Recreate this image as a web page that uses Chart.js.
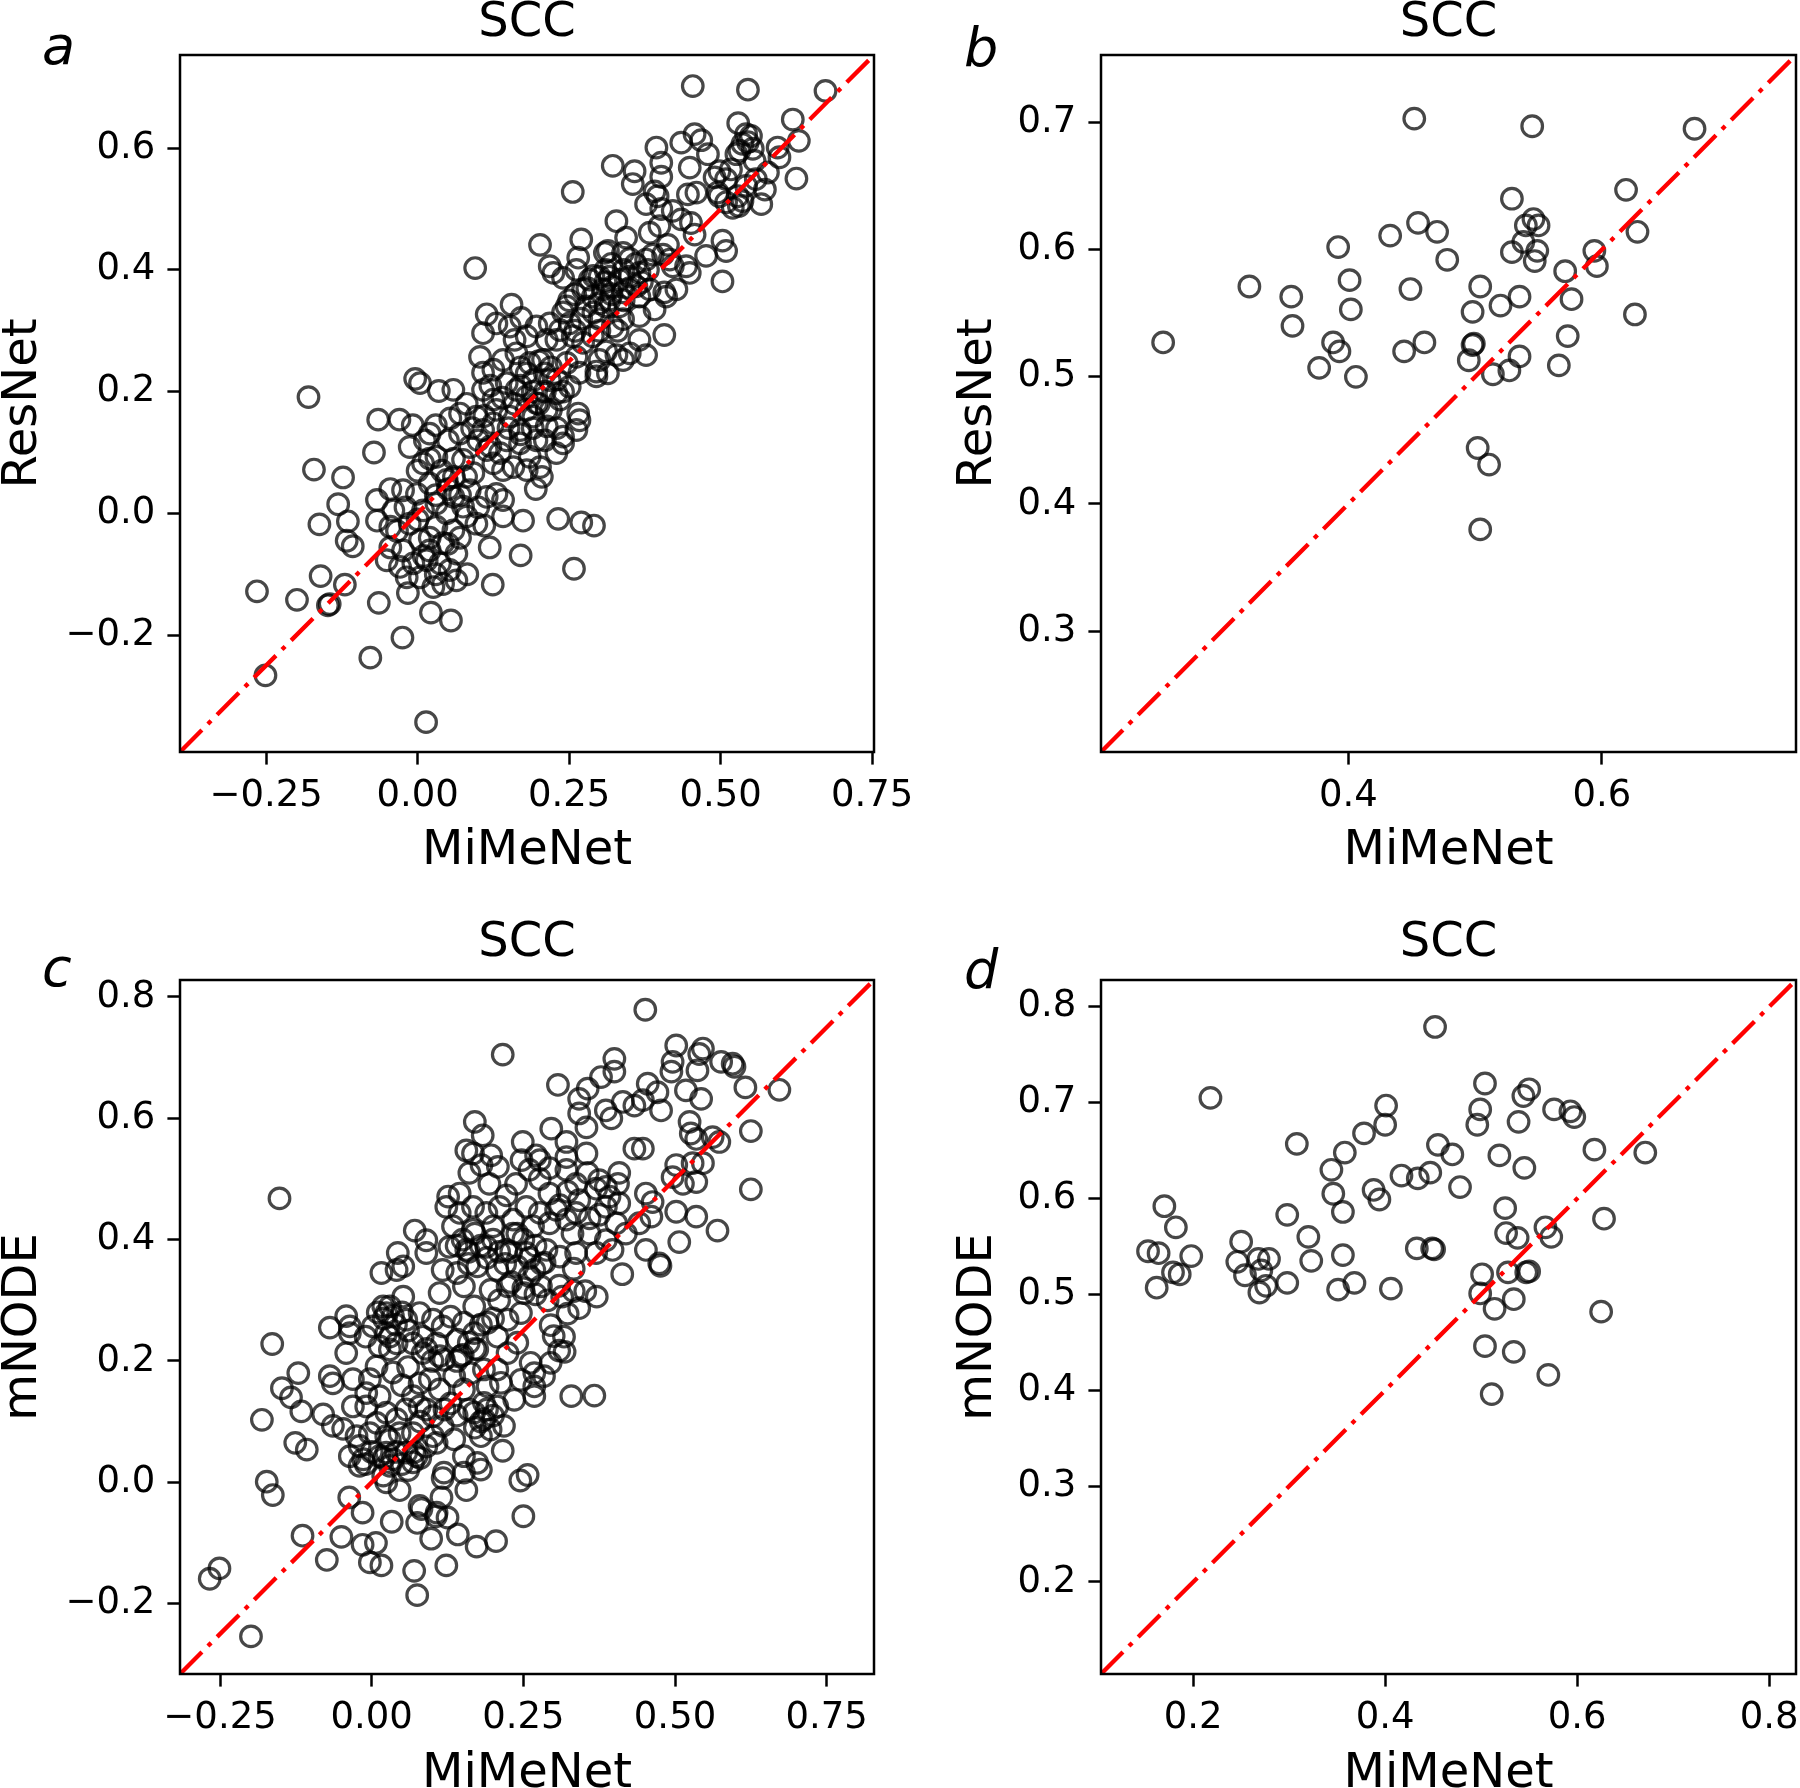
<!DOCTYPE html>
<html lang="en">
<head>
<meta charset="UTF-8">
<title>SCC - MiMeNet vs ResNet / mNODE</title>
<script src="https://cdn.jsdelivr.net/npm/chart.js"></script>
<style>
  html, body { margin: 0; padding: 0; background: #fff; overflow: hidden; }
  body { width: 1800px; height: 1788px; position: relative; }
  canvas { position: absolute; }
</style>
</head>
<body>
<canvas id="chartA" width="960" height="878" style="left:0px;top:0px"></canvas>
<canvas id="chartB" width="875" height="878" style="left:955px;top:0px"></canvas>
<canvas id="chartC" width="960" height="881" style="left:0px;top:920px"></canvas>
<canvas id="chartD" width="875" height="881" style="left:955px;top:920px"></canvas>

<script>
// ---- data: [MiMeNet, other model] SCC per item ----

// panel a: MiMeNet vs ResNet (all items)
const panelA = [
  [0.454,0.702],[0.545,0.696],[0.673,0.694],[0.619,0.647],[0.629,0.612],[0.625,0.550],[0.529,0.641],
  [0.542,0.623],[0.550,0.620],[0.545,0.610],[0.536,0.607],[0.553,0.599],[0.531,0.596],
  [0.594,0.601],[0.597,0.585],[0.578,0.560],[0.573,0.532],[0.567,0.508],[0.530,0.505],[0.520,0.502],
  [0.536,0.513],[0.528,0.521],[0.498,0.521],[0.495,0.527],[0.490,0.552],[0.498,0.562],[0.509,0.549],
  [0.517,0.565],[0.526,0.590],[0.556,0.579],[0.558,0.549],[0.542,0.538],
  [0.457,0.623],[0.468,0.613],[0.479,0.590],[0.435,0.609],[0.394,0.601],[0.402,0.576],[0.402,0.553],
  [0.449,0.568],[0.322,0.571],[0.358,0.562],[0.355,0.541],[0.391,0.529],[0.377,0.508],[0.402,0.500],
  [0.396,0.521],[0.446,0.524],[0.460,0.527],[0.509,0.511],[0.421,0.497],
  [0.328,0.480],[0.344,0.453],[0.383,0.461],[0.399,0.472],[0.413,0.441],[0.405,0.425],[0.388,0.425],
  [0.416,0.417],[0.435,0.483],[0.451,0.477],[0.457,0.458],[0.503,0.448],[0.509,0.431],[0.476,0.423],
  [0.443,0.406],[0.449,0.395],[0.503,0.381],[0.427,0.368],[0.407,0.363],[0.314,0.431],[0.339,0.428],
  [0.256,0.528],[0.270,0.450],[0.202,0.441],[0.265,0.420],[0.350,0.418],[0.421,0.406],[0.377,0.417],
  [0.309,0.428],[0.218,0.406],[0.224,0.395],[0.240,0.387],[0.262,0.400],[0.284,0.384],[0.300,0.389],
  [0.317,0.389],[0.333,0.384],[0.350,0.389],[0.366,0.395],[0.361,0.373],[0.273,0.368],[0.289,0.356],
  [0.306,0.368],[0.322,0.373],[0.339,0.363],[0.278,0.340],[0.300,0.345],[0.317,0.351],[0.333,0.340],
  [0.366,0.356],[0.383,0.368],[0.410,0.356],[0.391,0.335],[0.366,0.324],[0.339,0.319],[0.300,0.319],
  [0.322,0.307],[0.407,0.293],[0.366,0.285],[0.350,0.263],[0.328,0.260],[0.311,0.266],[0.339,0.252],
  [0.377,0.260],[0.235,0.301],[0.218,0.312],[0.251,0.312],[0.256,0.291],[0.229,0.285],[0.213,0.285],
  [0.273,0.280],[0.289,0.291],[0.262,0.257],[0.246,0.247],[0.300,0.252],[0.207,0.252],[0.314,0.230],
  [0.295,0.233],
  [0.155,0.343],[0.114,0.327],[0.108,0.296],[0.130,0.312],[0.152,0.307],[0.171,0.321],[0.180,0.291],
  [0.160,0.285],[0.196,0.307],[0.246,0.340],[0.103,0.257],[0.125,0.236],[0.108,0.231],[0.141,0.252],
  [0.163,0.263],[0.185,0.247],[0.267,0.231],[0.295,0.225],[0.059,0.203],[0.081,0.180],[0.108,0.203],
  [0.125,0.187],[0.147,0.214],[0.163,0.203],[0.180,0.192],[0.191,0.219],[0.218,0.219],[0.229,0.197],
  [0.235,0.187],[0.251,0.208],[0.265,0.164],[0.267,0.153],[0.262,0.137],[0.240,0.126],[0.240,0.115],
  [0.229,0.099],[0.213,0.143],[0.196,0.120],[0.185,0.093],[0.202,0.076],[0.180,0.071],[0.158,0.076],
  [0.141,0.071],[0.125,0.082],[0.114,0.104],[0.086,0.109],[0.070,0.131],[0.070,0.164],[0.097,0.159],
  [0.125,0.148],[0.152,0.159],[0.169,0.137],[0.147,0.120],[0.169,0.115],[0.108,0.137],[0.075,0.088],
  [0.092,0.066],[0.136,0.099],[0.213,0.170],[0.191,0.159],[0.196,0.181],
  [-0.013,0.109],[0.012,0.120],[0.020,0.131],[0.050,0.120],[0.009,0.082],[0.031,0.093],[0.130,0.032],
  [0.141,0.022],[0.114,0.027],[-0.045,0.040],[-0.024,0.038],[-0.067,0.022],[-0.040,0.005],[-0.001,0.032],
  [0.020,0.049],[0.048,0.055],[0.086,0.038],[0.059,0.027],[0.031,0.016],[0.009,0.005],[0.048,0.000],
  [0.075,0.011],[0.081,-0.005],[0.097,-0.017],[0.059,-0.028],[0.031,-0.022],[-0.013,-0.017],[-0.045,-0.022],
  [-0.067,-0.012],[0.141,-0.005],[0.174,-0.012],[0.119,-0.056],[0.170,-0.069],[-0.045,-0.056],[-0.024,-0.061],
  [0.004,-0.044],[0.020,-0.061],[0.042,-0.049],[0.064,-0.066],[-0.051,-0.077],[-0.029,-0.088],[-0.007,-0.082],
  [0.015,-0.077],[0.037,-0.082],[0.053,-0.093],[-0.018,-0.105],[0.004,-0.105],[0.042,-0.116],[0.026,-0.121],
  [0.064,-0.110],[0.082,-0.100],[0.124,-0.117],[-0.016,-0.131],[-0.064,-0.147],[0.022,-0.163],[0.055,-0.176],
  [-0.072,0.100],
  [-0.180,0.191],[-0.171,0.072],[-0.123,0.059],[-0.131,0.015],[-0.162,-0.018],[-0.115,-0.013],[-0.117,-0.045],
  [-0.107,-0.054],[-0.160,-0.103],[-0.120,-0.117],[-0.148,-0.151],[-0.145,-0.149],[-0.199,-0.142],[-0.265,-0.128],
  [-0.251,-0.266],[-0.065,0.154],[-0.030,0.154],[-0.008,0.145],[-0.004,0.221],[0.004,0.214],[0.035,0.201],
  [0.054,0.156],[0.030,0.145],[-0.034,-0.029],[-0.025,-0.204],[-0.078,-0.237],[0.014,-0.343],[0.232,-0.009],
  [0.270,-0.015],[0.291,-0.020],[0.258,-0.091],[0.095,0.403],[0.195,0.040],[0.205,0.060],
  // overlapping circles in the dense core
  [0.170,0.240],[0.180,0.230],[0.200,0.250],[0.210,0.230],[0.220,0.240],[0.190,0.200],[0.210,0.200],
  [0.230,0.220],[0.170,0.210],[0.200,0.180],[0.220,0.170],[0.240,0.200],[0.180,0.170],[0.160,0.180],
  [0.140,0.190],[0.120,0.210],[0.130,0.170],[0.150,0.140],[0.170,0.130],[0.190,0.140],[0.210,0.120],
  [0.230,0.140],[0.110,0.160],[0.090,0.140],[0.100,0.120],[0.120,0.110],
  [0.260,0.360],[0.280,0.370],[0.290,0.330],[0.310,0.340],[0.320,0.360],[0.270,0.320],[0.300,0.300],
  [0.330,0.300],[0.340,0.350],[0.290,0.390],[0.310,0.380],[0.350,0.370],[0.250,0.350],[0.240,0.330],
  [0.260,0.300],
  [0.000,0.070],[0.020,0.090],[0.040,0.070],[0.060,0.060],[0.030,0.030],[0.050,0.040],[0.070,0.030],
  [-0.020,0.010],[0.000,-0.010],[0.020,-0.040],[0.050,-0.050],[0.030,-0.100],[0.010,-0.070],[0.070,-0.040],
  [0.100,0.010],[0.110,-0.020],[0.080,0.060],[0.060,0.090],
  [0.310,0.400],[0.320,0.410],[0.340,0.400],[0.360,0.410],[0.370,0.380],[0.380,0.400]
];

// panel b: MiMeNet vs ResNet (subset)
const panelB = [
  [0.254,0.527],[0.322,0.571],[0.355,0.563],[0.356,0.540],[0.377,0.507],[0.388,0.527],[0.393,0.520],
  [0.392,0.602],[0.401,0.576],[0.402,0.553],[0.406,0.500],[0.433,0.611],[0.444,0.520],[0.449,0.569],
  [0.452,0.703],[0.455,0.621],[0.460,0.527],[0.470,0.614],[0.478,0.592],[0.495,0.513],[0.498,0.551],
  [0.498,0.525],[0.499,0.526],[0.502,0.444],[0.504,0.571],[0.511,0.431],[0.504,0.380],[0.514,0.502],
  [0.520,0.556],[0.527,0.505],[0.529,0.640],[0.529,0.598],[0.535,0.563],[0.535,0.516],[0.538,0.606],
  [0.540,0.619],[0.545,0.697],[0.546,0.624],[0.547,0.591],[0.549,0.599],[0.550,0.619],[0.571,0.583],
  [0.573,0.532],[0.566,0.509],[0.576,0.561],[0.594,0.599],[0.596,0.587],[0.619,0.647],[0.626,0.549],
  [0.628,0.614],[0.673,0.695]
];

// panel c: MiMeNet vs mNODE (all items)
const panelC = [
  [-0.267,-0.159],[-0.251,-0.142],[-0.199,-0.254],[-0.152,0.468],[-0.164,0.228],[-0.181,0.103],[-0.173,0.001],
  [-0.163,-0.021],[-0.148,0.155],[-0.133,0.140],[-0.121,0.180],[-0.116,0.117],[-0.126,0.065],[-0.107,0.054],
  [-0.114,-0.088],[-0.074,-0.128],[-0.050,-0.090],[-0.037,-0.025],[-0.015,-0.050],[-0.015,-0.103],[0.007,-0.100],
  [-0.003,-0.132],[0.016,-0.137],[0.033,-0.065],[0.046,-0.013],[0.070,-0.146],[0.075,-0.186],[0.082,-0.044],
  [0.075,-0.067],[0.098,-0.093],[0.106,-0.056],[0.115,-0.025],[0.117,0.007],[0.125,-0.058],[0.123,-0.137],
  [0.142,-0.086],[0.156,-0.013],[0.173,-0.106],[0.205,-0.097],[0.216,0.052],[0.245,0.003],[0.257,0.012],
  [0.250,-0.056],[0.216,0.705],[0.451,0.779],[0.307,0.655],[0.329,0.142],[0.367,0.143],
  [0.672,0.647],[0.625,0.579],[0.625,0.483],[0.616,0.651],[0.371,0.306],[0.476,0.357],[0.413,0.343],
  [0.333,0.315],[0.342,0.287],[0.323,0.278],[0.352,0.315],[0.314,0.306],[0.300,0.241],[0.309,0.217],
  [0.318,0.215],[0.295,0.259],[0.333,0.352],[0.309,0.324],[0.285,0.362],
  [0.400,0.698],[0.400,0.677],[0.378,0.668],[0.356,0.649],[0.342,0.632],[0.342,0.608],[0.354,0.585],
  [0.386,0.613],[0.395,0.600],[0.414,0.627],[0.433,0.621],[0.447,0.630],[0.455,0.657],[0.471,0.643],
  [0.477,0.613],[0.502,0.720],[0.496,0.693],[0.494,0.677],[0.546,0.715],[0.540,0.706],[0.576,0.693],
  [0.595,0.690],[0.598,0.685],[0.537,0.679],[0.518,0.646],[0.543,0.632],[0.524,0.594],[0.526,0.575],
  [0.535,0.566],[0.562,0.569],[0.573,0.561],[0.433,0.550],[0.447,0.550],[0.502,0.523],[0.529,0.526],
  [0.546,0.526],[0.496,0.503],[0.513,0.492],[0.535,0.495],[0.452,0.476],[0.463,0.462],[0.502,0.446],
  [0.535,0.438],[0.441,0.427],[0.461,0.438],[0.507,0.396],[0.570,0.415],[0.452,0.383],[0.474,0.361],
  [0.408,0.510],[0.406,0.492],[0.386,0.487],[0.375,0.498],[0.356,0.510],[0.354,0.542],[0.321,0.536],
  [0.321,0.561],[0.296,0.583],[0.249,0.561],[0.271,0.539],[0.277,0.531],[0.247,0.531],[0.260,0.515],
  [0.293,0.518],[0.321,0.515],[0.170,0.594],[0.183,0.572],[0.197,0.539],[0.181,0.523],[0.156,0.547],
  [0.167,0.542],[0.161,0.510],[0.208,0.520],[0.238,0.492],[0.222,0.473],[0.194,0.492],[0.126,0.471],
  [0.145,0.476],[0.277,0.500],[0.293,0.476],[0.323,0.479],[0.337,0.492],[0.310,0.457],[0.342,0.465],
  [0.370,0.484],[0.392,0.471],[0.408,0.460],[0.386,0.454],[0.375,0.441],[0.359,0.435],[0.337,0.444],
  [0.321,0.433],[0.304,0.449],[0.277,0.444],[0.255,0.454],[0.233,0.433],[0.211,0.454],[0.189,0.444],
  [0.167,0.454],[0.145,0.444],[0.123,0.454],[0.134,0.422],[0.167,0.416],[0.200,0.422],[0.233,0.410],
  [0.266,0.422],[0.293,0.427],[0.331,0.410],[0.359,0.410],[0.386,0.399],[0.403,0.427],[0.419,0.410],
  [0.128,0.388],[0.156,0.383],[0.189,0.388],[0.222,0.383],[0.255,0.378],[0.288,0.383],[0.310,0.372],
  [0.337,0.378],[0.370,0.378],[0.397,0.383],
  [0.071,0.415],[0.090,0.399],[0.043,0.378],[0.052,0.356],[0.041,0.350],[0.016,0.345],[0.090,0.378],
  [0.117,0.350],[0.112,0.312],[0.052,0.306],[0.019,0.290],[0.024,0.279],[0.035,0.274],[0.057,0.268],
  [0.079,0.279],[0.101,0.268],[0.117,0.257],[-0.042,0.274],[-0.069,0.255],[-0.036,0.257],[-0.036,0.246],
  [-0.042,0.213],[0.002,0.257],[0.024,0.246],[0.013,0.224],[0.030,0.219],[0.041,0.229],[0.084,0.240],
  [0.068,0.229],[0.084,0.213],[0.107,0.229],[0.112,0.208],[0.008,0.191],[0.035,0.181],[0.096,0.170],
  [0.079,0.163],[0.112,0.153],[-0.069,0.175],[-0.064,0.163],[-0.031,0.170],[-0.003,0.170],[-0.009,0.147],
  [0.013,0.142],[0.068,0.142],
  [-0.080,0.112],[-0.064,0.093],[-0.047,0.088],[-0.031,0.125],[-0.025,0.076],[-0.009,0.125],[0.008,0.098],
  [0.024,0.115],[0.041,0.104],[0.057,0.120],[0.079,0.125],[0.101,0.109],[0.117,0.093],[0.101,0.076],
  [0.068,0.081],[0.046,0.081],[0.024,0.076],[-0.003,0.081],[-0.036,0.043],[-0.014,0.038],[-0.020,0.027],
  [0.013,0.043],[0.024,0.049],[0.035,0.038],[0.030,0.027],[0.057,0.049],[0.068,0.033],[0.074,0.043],
  [0.090,0.059],[0.107,0.065],[0.019,0.011],[0.024,0.000],[0.079,-0.039],[0.107,-0.050],
  [0.141,0.345],[0.174,0.356],[0.207,0.350],[0.240,0.356],[0.268,0.350],[0.152,0.323],[0.169,0.290],
  [0.196,0.317],[0.224,0.323],[0.251,0.312],[0.279,0.323],[0.317,0.240],[0.262,0.197],[0.268,0.180],
  [0.268,0.158],[0.246,0.169],[0.207,0.186],[0.224,0.213],[0.240,0.230],[0.207,0.240],[0.191,0.263],
  [0.224,0.268],[0.246,0.279],[0.152,0.263],[0.130,0.273],[0.141,0.235],[0.169,0.246],[0.119,0.202],
  [0.147,0.208],[0.174,0.219],[0.185,0.186],[0.163,0.180],[0.136,0.175],[0.152,0.153],[0.191,0.158],
  [0.213,0.164],[0.235,0.136],[0.268,0.142],[0.185,0.131],[0.207,0.125],[0.169,0.115],[0.185,0.104],
  [0.196,0.087],[0.218,0.093],[0.180,0.076],[0.136,0.071],[0.152,0.043],[0.174,0.032],[0.180,0.021],
  [0.152,0.016],[0.119,0.016],[0.295,0.197],[0.284,0.175],
  // overlapping circles in the dense clusters
  [0.020,0.270],[0.030,0.290],[0.040,0.260],[0.010,0.280],[0.050,0.280],[0.060,0.250],[0.030,0.240],
  [-0.010,0.240],[0.000,0.050],[0.020,0.040],[0.040,0.050],[0.050,0.030],[0.060,0.020],[0.070,0.050],
  [-0.020,0.060],[-0.010,0.030],[0.030,0.070],[0.080,0.040],
  [0.150,0.400],[0.160,0.380],[0.170,0.410],[0.180,0.390],[0.190,0.370],[0.200,0.400],[0.140,0.390],
  [0.160,0.360],[0.210,0.380],[0.220,0.360],[0.240,0.410],[0.250,0.400],[0.260,0.370],[0.270,0.390],
  [0.280,0.360],[0.230,0.380],
  [0.150,0.210],[0.160,0.230],[0.140,0.200],[0.170,0.220],[0.130,0.130],[0.120,0.120],[0.140,0.110],
  [0.160,0.120],[0.180,0.100],[0.190,0.120],[0.200,0.110],[0.170,0.090],
  [0.260,0.340],[0.270,0.310],[0.290,0.300],[0.250,0.320],[0.230,0.330],[0.210,0.300],[0.200,0.270],
  [0.180,0.260],[0.100,0.200],[0.090,0.220],[0.060,0.190],[0.050,0.160],[0.080,0.100],[0.090,0.120]
];

// panel d: MiMeNet vs mNODE (subset)
const panelD = [
  [0.153,0.545],[0.164,0.543],[0.162,0.507],[0.170,0.592],[0.182,0.570],[0.179,0.523],[0.186,0.521],
  [0.198,0.540],[0.218,0.705],[0.246,0.534],[0.250,0.555],[0.254,0.520],[0.268,0.537],[0.269,0.502],
  [0.271,0.525],[0.276,0.509],[0.279,0.537],[0.298,0.583],[0.298,0.512],[0.308,0.657],[0.320,0.560],
  [0.323,0.535],[0.344,0.630],[0.346,0.605],[0.351,0.505],[0.356,0.541],[0.356,0.586],[0.358,0.648],
  [0.368,0.512],[0.378,0.668],[0.388,0.609],[0.394,0.599],[0.401,0.697],[0.400,0.677],[0.406,0.506],
  [0.417,0.624],[0.433,0.548],[0.434,0.621],[0.447,0.627],[0.449,0.548],[0.451,0.547],[0.452,0.779],
  [0.455,0.656],[0.470,0.646],[0.478,0.612],[0.496,0.677],[0.499,0.693],[0.499,0.501],[0.501,0.521],
  [0.504,0.720],[0.504,0.446],[0.514,0.485],[0.511,0.396],[0.519,0.645],[0.525,0.590],[0.526,0.564],
  [0.528,0.523],[0.534,0.495],[0.534,0.440],[0.538,0.559],[0.539,0.680],[0.544,0.707],[0.545,0.632],
  [0.547,0.523],[0.550,0.714],[0.550,0.524],[0.567,0.570],[0.573,0.560],[0.570,0.416],[0.576,0.693],
  [0.593,0.691],[0.597,0.685],[0.618,0.651],[0.625,0.482],[0.628,0.579],[0.671,0.648]
];

// axis limits (same on x and y, the red y = x line runs corner to corner)
const aLim = [-0.392, 0.753];
const bLim = [0.205, 0.753];
const cLim = [-0.316, 0.828];
const dLim = [0.104, 0.828];

// ticks
const wideTicks = [-0.25, 0, 0.25, 0.5, 0.75];
const wideLabels = ['\u22120.25', '0.00', '0.25', '0.50', '0.75'];
const aYTicks = [-0.2, 0, 0.2, 0.4, 0.6];
const aYLabels = ['\u22120.2', '0.0', '0.2', '0.4', '0.6'];
const bXTicks = [0.4, 0.6];
const bXLabels = ['0.4', '0.6'];
const bYTicks = [0.3, 0.4, 0.5, 0.6, 0.7];
const bYLabels = ['0.3', '0.4', '0.5', '0.6', '0.7'];
const cYTicks = [-0.2, 0, 0.2, 0.4, 0.6, 0.8];
const cYLabels = ['\u22120.2', '0.0', '0.2', '0.4', '0.6', '0.8'];
const dXTicks = [0.2, 0.4, 0.6, 0.8];
const dXLabels = ['0.2', '0.4', '0.6', '0.8'];
const dYTicks = [0.2, 0.3, 0.4, 0.5, 0.6, 0.7, 0.8];
const dYLabels = ['0.2', '0.3', '0.4', '0.5', '0.6', '0.7', '0.8'];

const FONT = '"DejaVu Sans", "Liberation Sans", sans-serif';

// full box around the plot area
const framePlugin = {
  id: 'frame',
  afterDraw(chart) {
    const { ctx, chartArea: a } = chart;
    ctx.save();
    ctx.strokeStyle = '#000';
    ctx.lineWidth = 2.5;
    ctx.strokeRect(a.left, a.top, a.right - a.left, a.bottom - a.top);
    ctx.restore();
  }
};

// italic panel letter (a, b, c, d)
const letterPlugin = {
  id: 'panelLetter',
  afterDraw(chart, args, opts) {
    const ctx = chart.ctx;
    ctx.save();
    ctx.font = 'italic 54px ' + FONT;
    ctx.fillStyle = '#000';
    ctx.textBaseline = 'alphabetic';
    ctx.textAlign = 'left';
    ctx.fillText(opts.text, opts.x, opts.y);
    ctx.restore();
  }
};

function axis(ticks, labels, lim, title, fitSize, horizontal) {
  const cfg = {
    type: 'linear',
    min: lim[0],
    max: lim[1],
    afterBuildTicks: s => { s.ticks = ticks.map(v => ({ value: v })); },
    ticks: {
      callback: (v, i) => labels[i],
      color: '#000',
      font: { family: FONT, size: 37, lineHeight: 1.2 },
      padding: horizontal ? 9.5 : 12,
      maxRotation: 0,
      autoSkip: false
    },
    grid: {
      drawOnChartArea: false,
      drawTicks: true,
      tickLength: 12.6,
      tickWidth: 2.5,
      tickColor: '#000'
    },
    border: { display: false },
    title: {
      display: true,
      text: title,
      color: '#000',
      font: { family: FONT, size: 48, lineHeight: horizontal ? 1 : 0.84 },
      padding: horizontal ? { top: 0, bottom: 2 } : { top: 3.5, bottom: 0 }
    }
  };
  if (horizontal) {
    cfg.position = 'bottom';
    cfg.afterFit = s => { s.height = fitSize; };
  } else {
    cfg.position = 'left';
    cfg.afterFit = s => { s.width = fitSize; };
  }
  return cfg;
}

function makePanel(id, p) {
  new Chart(document.getElementById(id), {
    type: 'scatter',
    data: {
      datasets: [
        {
          label: 'y = x',
          data: [{ x: p.lim[0], y: p.lim[0] }, { x: p.lim[1], y: p.lim[1] }],
          showLine: true,
          borderColor: '#ff0000',
          borderWidth: 4.3,
          borderDash: [31, 8.5, 4.5, 8.5],
          pointRadius: 0,
          order: 0
        },
        {
          label: 'SCC',
          data: p.points.map(([x, y]) => ({ x, y })),
          pointStyle: 'circle',
          pointRadius: 10.3,
          pointBorderWidth: 3.2,
          pointBorderColor: 'rgba(0,0,0,0.72)',
          pointBackgroundColor: 'rgba(0,0,0,0)',
          order: 1
        }
      ]
    },
    options: {
      responsive: false,
      animation: false,
      devicePixelRatio: 1,
      events: [],
      layout: { padding: { left: 0, top: 0, right: p.padRight, bottom: 0 } },
      scales: {
        x: axis(p.xTicks, p.xLabels, p.lim, 'MiMeNet', p.xAxisH, true),
        y: axis(p.yTicks, p.yLabels, p.lim, p.yTitle, p.yAxisW, false)
      },
      plugins: {
        legend: { display: false },
        tooltip: { enabled: false },
        title: {
          display: true,
          text: 'SCC',
          color: '#000',
          fullSize: false,
          font: { family: FONT, size: 48, weight: 'normal', lineHeight: 1 },
          padding: { top: 0, bottom: p.titleGap }
        },
        panelLetter: { text: p.letter, x: p.letterX, y: p.letterY }
      }
    },
    plugins: [framePlugin, letterPlugin]
  });
}

makePanel('chartA', {
  points: panelA, lim: aLim, xTicks: wideTicks, xLabels: wideLabels, yTicks: aYTicks, yLabels: aYLabels,
  yTitle: 'ResNet', yAxisW: 180, xAxisH: 126, padRight: 86, titleGap: 7, letter: 'a', letterX: 42, letterY: 64
});
makePanel('chartB', {
  points: panelB, lim: bLim, xTicks: bXTicks, xLabels: bXLabels, yTicks: bYTicks, yLabels: bYLabels,
  yTitle: 'ResNet', yAxisW: 146, xAxisH: 126, padRight: 34, titleGap: 7, letter: 'b', letterX: 9, letterY: 66
});
makePanel('chartC', {
  points: panelC, lim: cLim, xTicks: wideTicks, xLabels: wideLabels, yTicks: cYTicks, yLabels: cYLabels,
  yTitle: 'mNODE', yAxisW: 180, xAxisH: 127, padRight: 86, titleGap: 12, letter: 'c', letterX: 42, letterY: 66
});
makePanel('chartD', {
  points: panelD, lim: dLim, xTicks: dXTicks, xLabels: dXLabels, yTicks: dYTicks, yLabels: dYLabels,
  yTitle: 'mNODE', yAxisW: 146, xAxisH: 127, padRight: 34, titleGap: 12, letter: 'd', letterX: 9, letterY: 68
});
</script>
</body>
</html>
